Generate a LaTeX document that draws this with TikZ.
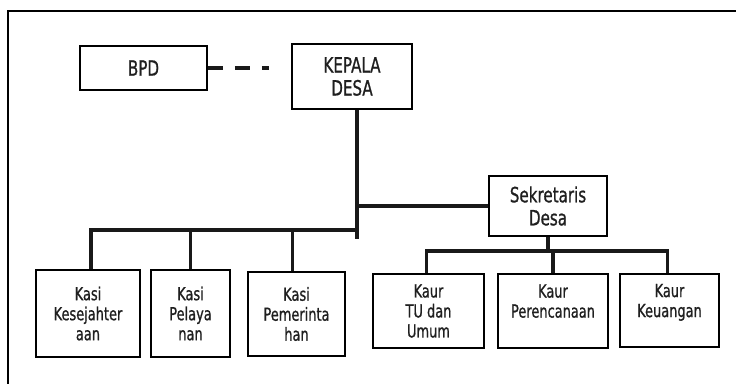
\documentclass[tikz,border=0pt]{standalone}
\usepackage{fontspec}
\setmainfont{DejaVu Sans}[FakeStretch=0.72,FakeBold=0.9]
\begin{document}
\begin{tikzpicture}[x=1pt,y=-1pt,
  box/.style={draw=black,line width=1.5pt,rectangle,inner sep=0pt,align=center,text=black!88},
  big/.style={font=\fontsize{21}{23}\selectfont},
  small/.style={font=\fontsize{18}{20}\selectfont},
  conn/.style={draw=black!90,line width=3.8pt,line join=miter},
  dashline/.style={draw=black!90,line width=4pt,dash pattern=on 15pt off 12pt}
]
\useasboundingbox (0,0) rectangle (736,383);
\fill[white] (0,0) rectangle (736,383);
\begin{scope}
\clip (0,0) rectangle (736,383);
\draw[line width=2.5pt] (8,11) rectangle (800,450);
\end{scope}

% top level
\node[box,big,minimum width=127pt,minimum height=44pt] (bpd) at (143.5,68) {BPD};
\node[box,big,minimum width=120pt,minimum height=65pt] (kepala) at (352,76.5) {KEPALA\\DESA};
\node[box,big,minimum width=118pt,minimum height=60pt] (sek) at (548,206) {Sekretaris\\Desa};

% kasi
\node[box,small,minimum width=104pt,minimum height=87pt] (k1) at (88,313.5) {Kasi\\Kesejahter\\aan};
\node[box,small,minimum width=79pt,minimum height=87pt] (k2) at (190.5,313.5) {Kasi\\Pelaya\\nan};
\node[box,small,minimum width=97pt,minimum height=84pt] (k3) at (296.5,314) {Kasi\\Pemerinta\\han};

% kaur
\node[box,small,minimum width=111pt,minimum height=74pt] (u1) at (428.5,311) {Kaur\\TU dan\\Umum};
\node[box,small,minimum width=110pt,minimum height=74pt] (u2) at (553,311) {Kaur\\Perencanaan\\~};
\node[box,small,minimum width=99pt,minimum height=73pt] (u3) at (669.5,310.5) {Kaur\\Keuangan\\~};

% junctions
\coordinate (kj) at (357,239);
\coordinate (kasibar) at (0,230);
\coordinate (kaurbar) at (0,251);
\coordinate (dashend) at (269,68);

% connectors
\draw[dashline] (bpd.east) -- (dashend);
\draw[conn] (kepala.south -| kj) -- (kj);
\draw[conn] (sek.west) -- (sek.west -| kj);
\draw[conn] ([xshift=3pt]k1.north) |- (kj |- kasibar);
\draw[conn] (k2.north) -- (k2.north |- kasibar);
\draw[conn] ([xshift=-4pt]k3.north) -- ([xshift=-4pt]k3.north |- kasibar);
\draw[conn] (sek.south) -- (sek.south |- kaurbar);
\draw[conn] ([xshift=-2pt]u1.north) |- ([xshift=-2pt]u3.north |- kaurbar) -- ([xshift=-2pt]u3.north);
\draw[conn] (u2.north) -- (u2.north |- kaurbar);
\end{tikzpicture}
\end{document}
